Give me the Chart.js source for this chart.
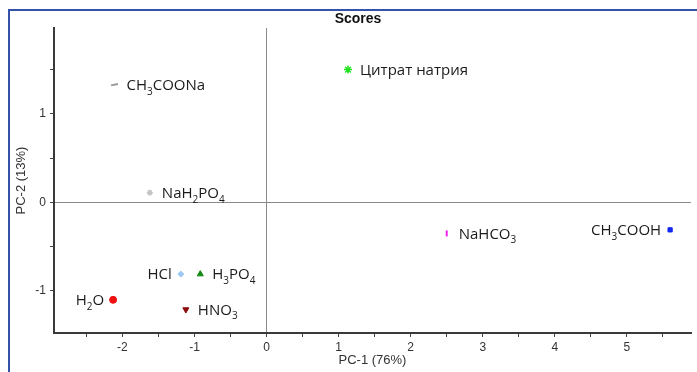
<!DOCTYPE html>
<html>
<head>
<meta charset="utf-8">
<script src="https://cdn.jsdelivr.net/npm/chart.js@4.4.1/dist/chart.umd.min.js"></script>
<style>
  html, body { margin: 0; padding: 0; background: #fff; overflow: hidden; }
  #wrap { position: relative; width: 697px; height: 372px; }
  #frame { position: absolute; left: 8px; top: 9px; width: 720px; height: 400px;
           border-left: 2px solid #3352a8; border-top: 2px solid #3352a8; }
  canvas { position: absolute; left: 0; top: 0; }
</style>
</head>
<body>
<div id="wrap">
  <div id="frame"></div>
  <canvas id="scores" width="697" height="372"></canvas>
</div>
<script>
// amostras (nomes com _ antes do indice = subscrito)
const nomes = ["CH_3COONa", "Цитрат натрия", "NaH_2PO_4", "HCl", "H_3PO_4", "H_2O", "HNO_3", "NaHCO_3", "CH_3COOH"];
const pc1 = [-2.11, 1.13, -1.62, -1.19, -0.92, -2.13, -1.12, 2.50, 5.60];
const pc2 = [1.33, 1.50, 0.11, -0.81, -0.81, -1.10, -1.21, -0.35, -0.31];
const cores = ["#9a9a9a", "#22e022", "#c4c4c4", "#9cc8f2", "#128a12", "#ee1111", "#8b0a0a", "#ee22ee", "#1028f0"];
const lado = ["d", "d", "d", "e", "d", "e", "d", "d", "e"]; // d = direita, e = esquerda

const estilos = ["line", "star", "star", "rectRot", "triangle", "circle", "triangle", "line", "rect"];
const rotacoes = [-12, 0, 0, 0, 0, 0, 180, 90, 0];
const raios = [3.5, 4, 3, 3, 3.5, 3.5, 3.5, 3, 3];

const datasets = nomes.map(function (n, i) {
    return {
        label: n,
        data: [{ x: pc1[i], y: pc2[i] }],
        pointStyle: estilos[i],
        rotation: rotacoes[i],
        pointRadius: raios[i],
        borderWidth: estilos[i] === "line" ? 2 : (estilos[i] === "star" ? 1.5 : 1),
        backgroundColor: cores[i],
        borderColor: cores[i]
    };
});

// desenha texto com subscritos
function textoSub(ctx, txt, x, y, medir) {
    let partes = [];
    for (let k = 0; k < txt.length; k++) {
        if (txt[k] === "_") { partes.push({ t: txt[k + 1], sub: true }); k++; }
        else partes.push({ t: txt[k], sub: false });
    }
    let w = 0;
    partes.forEach(function (p) {
        ctx.font = p.sub ? "10px 'Open Sans'" : "15px 'Open Sans'";
        if (!medir) ctx.fillText(p.t, x + w, p.sub ? y + 6 : y);
        w += ctx.measureText(p.t).width;
    });
    return w;
}

const rotulos = {
    id: "rotulos",
    afterDatasetsDraw(chart) {
        const ctx = chart.ctx;
        ctx.save();
        ctx.fillStyle = "#1a1a1a";
        ctx.textBaseline = "middle";
        ctx.textAlign = "left";
        chart.data.datasets.forEach(function (ds, i) {
            const p = chart.getDatasetMeta(i).data[0];
            let w = textoSub(ctx, ds.label, 0, 0, true);
            let x = lado[i] === "d" ? p.x + 12 : p.x - 9 - w;
            textoSub(ctx, ds.label, x, p.y + 1, false);
        });
        // titulo
        ctx.font = "bold 14px 'Liberation Sans', Arial";
        ctx.textAlign = "center";
        ctx.fillStyle = "#111";
        ctx.fillText("Scores", 358, 19);
        ctx.restore();
    }
};

function rotuloTick(v) {
    return Number.isInteger(v) ? String(v) : "";
}

new Chart(document.getElementById("scores"), {
    type: "scatter",
    data: { datasets: datasets },
    plugins: [rotulos],
    options: {
        responsive: false,
        animation: false,
        layout: { padding: { top: 28, left: 0, right: 0, bottom: 0 } },
        plugins: { legend: { display: false }, tooltip: { enabled: false }, title: { display: false } },
        scales: {
            x: {
                min: -2.95, max: 5.89,
                afterFit: function (s) { s.height = 39; },
                ticks: { stepSize: 0.5, includeBounds: false, autoSkip: false, maxRotation: 0,
                         callback: rotuloTick, color: "#333", padding: 3,
                         font: { family: "'Liberation Sans', Arial", size: 12 } },
                grid: { color: function (c) { return c.tick && c.tick.value === 0 ? "#8a8a8a" : "rgba(0,0,0,0)"; },
                        tickColor: "#444", tickLength: 4, lineWidth: 1 },
                border: { color: "#3a3a3a", width: 2 },
                title: { display: true, text: "PC-1 (76%)", color: "#333", padding: { top: 1 },
                         font: { family: "'Liberation Sans', Arial", size: 13 } }
            },
            y: {
                min: -1.475, max: 1.97,
                afterFit: function (s) { s.width = 54; },
                ticks: { stepSize: 0.5, includeBounds: false, autoSkip: false,
                         callback: rotuloTick, color: "#333", padding: 4,
                         font: { family: "'Liberation Sans', Arial", size: 12 } },
                grid: { color: function (c) { return c.tick && c.tick.value === 0 ? "#8a8a8a" : "rgba(0,0,0,0)"; },
                        tickColor: "#444", tickLength: 4, lineWidth: 1 },
                border: { color: "#3a3a3a", width: 2 },
                title: { display: true, text: "PC-2 (13%)", color: "#333", padding: { top: 14, bottom: 0 },
                         font: { family: "'Liberation Sans', Arial", size: 13 } }
            }
        }
    }
});
</script>
</body>
</html>
